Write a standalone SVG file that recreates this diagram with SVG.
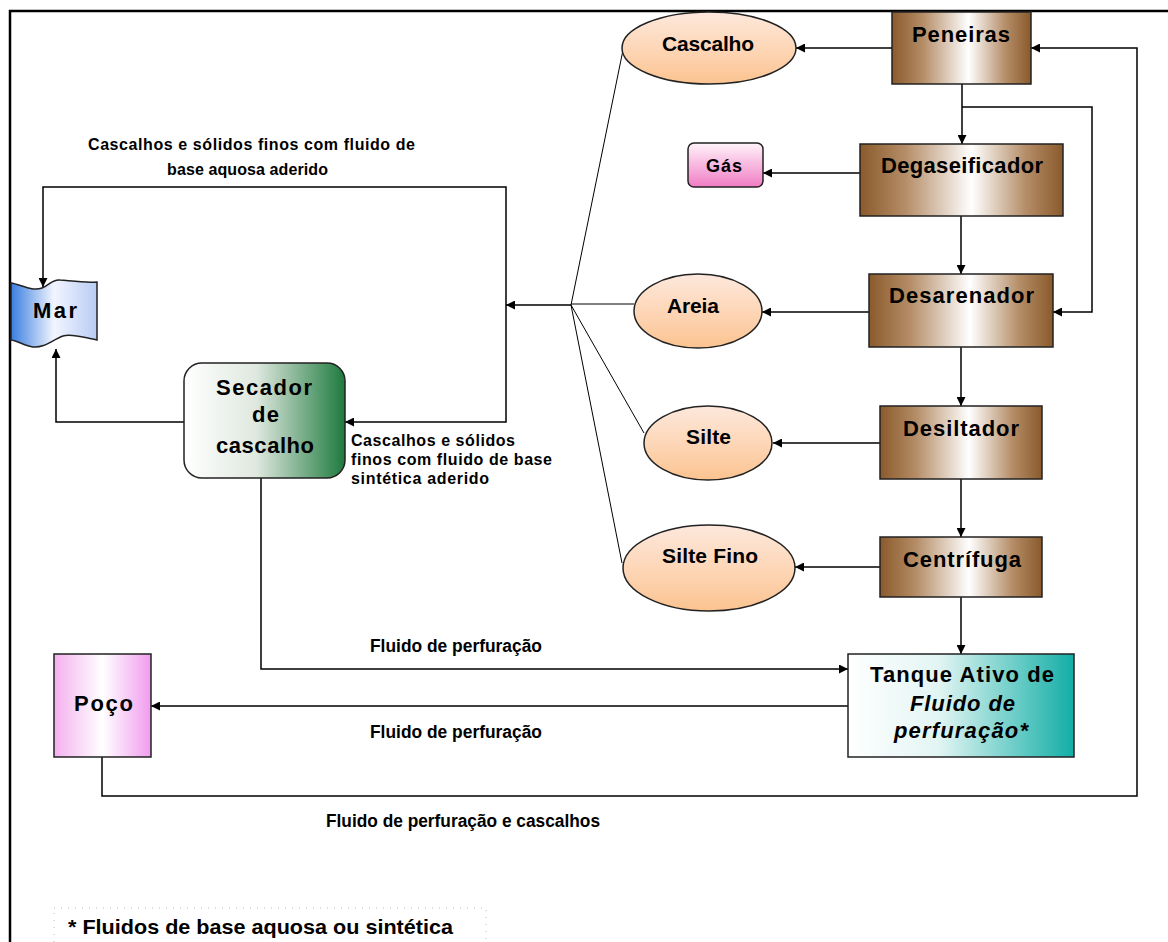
<svg xmlns="http://www.w3.org/2000/svg" width="1168" height="942" viewBox="0 0 1168 942">
<style>
.t{font-family:"Liberation Sans",Arial,sans-serif;font-weight:bold;fill:#000}
.n{font-size:22px}
.e{font-size:21px}
.s{font-size:16px}
.f{font-size:18px}
.box{stroke:#222;stroke-width:1.5}
.c{fill:none;stroke:#000;stroke-width:1.5}
.a{marker-end:url(#ah)}
.fan{fill:none;stroke:#000;stroke-width:1}
</style>
<defs>
<marker id="ah" viewBox="0 0 10 10" refX="10" refY="5" markerWidth="9" markerHeight="9" markerUnits="userSpaceOnUse" orient="auto"><path d="M0,0 L10,5 L0,10 z" fill="#000"/></marker>
<linearGradient id="brown" x1="0" y1="0" x2="1" y2="0"><stop offset="0" stop-color="#8a5a2c"/><stop offset="0.22" stop-color="#b48c66"/><stop offset="0.55" stop-color="#ffffff"/><stop offset="0.82" stop-color="#b48c66"/><stop offset="1" stop-color="#8a5a2c"/></linearGradient>
<linearGradient id="peach" x1="0" y1="0" x2="0" y2="1"><stop offset="0" stop-color="#fde8dc"/><stop offset="0.6" stop-color="#fdd3b0"/><stop offset="1" stop-color="#fbc390"/></linearGradient>
<linearGradient id="pink" x1="0" y1="0" x2="0" y2="1"><stop offset="0" stop-color="#fff4fa"/><stop offset="1" stop-color="#f07cc4"/></linearGradient>
<linearGradient id="blue" x1="0" y1="0" x2="1" y2="0"><stop offset="0" stop-color="#3a7ee0"/><stop offset="0.5" stop-color="#f2f5ff"/><stop offset="1" stop-color="#b8ccf4"/></linearGradient>
<linearGradient id="green" x1="0" y1="0" x2="1" y2="0"><stop offset="0" stop-color="#ffffff"/><stop offset="0.45" stop-color="#dfe8df"/><stop offset="1" stop-color="#1e7a3e"/></linearGradient>
<linearGradient id="violet" x1="0" y1="0" x2="1" y2="0"><stop offset="0" stop-color="#f4b0ee"/><stop offset="0.5" stop-color="#ffffff"/><stop offset="1" stop-color="#f09cee"/></linearGradient>
<linearGradient id="teal" x1="0" y1="0" x2="1" y2="0"><stop offset="0" stop-color="#ffffff"/><stop offset="0.4" stop-color="#e2f5f3"/><stop offset="1" stop-color="#12aea6"/></linearGradient>
</defs>
<rect width="1168" height="942" fill="#fff"/>
<path d="M10,942 L10,11 L1168,11" fill="none" stroke="#000" stroke-width="2.5"/>

<g id="connectors">
<path class="c a" d="M892,48 L796,48"/>
<path class="c a" d="M102,757 L102,796 L1137,796 L1137,48 L1031,48"/>
<path class="c a" d="M962,84 L962,144"/>
<path class="c a" d="M962,107 L1092,107 L1092,312 L1053,312"/>
<path class="c a" d="M860,173 L763,173"/>
<path class="c a" d="M961,216 L961,274"/>
<path class="c a" d="M869,312 L762,312"/>
<path class="c a" d="M961,347 L961,406"/>
<path class="c a" d="M880,443 L773,443"/>
<path class="c a" d="M961,479 L961,537"/>
<path class="c a" d="M880,567 L795,567"/>
<path class="c a" d="M961,597 L961,654"/>
<path class="fan" d="M571,305 L623,50 M571,304 L634,304 M571,305 L644,433 M571,305 L622,563"/>
<path class="c a" d="M571,305 L506,305"/>
<path class="c a" d="M506,305 L506,187 L43,187 L43,287"/>
<path class="c a" d="M506,305 L506,422 L345,422"/>
<path class="c a" d="M184,422 L56,422 L56,349"/>
<path class="c a" d="M261,478 L261,669 L848,669"/>
<path class="c a" d="M848,706 L151,706"/>
</g>

<g id="peneiras"><rect class="box" x="892" y="12" width="139" height="72" fill="url(#brown)"/><text class="t n" x="912" y="42" textLength="98">Peneiras</text></g>
<g id="cascalho"><ellipse class="box" cx="709" cy="48" rx="87" ry="36" fill="url(#peach)"/><text class="t e" x="662" y="51" textLength="92">Cascalho</text></g>
<g id="degaseificador"><rect class="box" x="860" y="144" width="203" height="72" fill="url(#brown)"/><text class="t n" x="881" y="173" textLength="162">Degaseificador</text></g>
<g id="gas"><rect class="box" x="688" y="143" width="75" height="44" rx="6" fill="url(#pink)"/><text class="t" font-size="18" x="706" y="172" textLength="36">Gás</text></g>
<g id="desarenador"><rect class="box" x="869" y="274" width="184" height="73" fill="url(#brown)"/><text class="t n" x="889" y="303" textLength="145">Desarenador</text></g>
<g id="areia"><ellipse class="box" cx="698" cy="311" rx="64" ry="37" fill="url(#peach)"/><text class="t e" x="667" y="313" textLength="52">Areia</text></g>
<g id="desiltador"><rect class="box" x="880" y="406" width="162" height="73" fill="url(#brown)"/><text class="t n" x="903" y="436" textLength="116">Desiltador</text></g>
<g id="silte"><ellipse class="box" cx="708" cy="443" rx="64" ry="37" fill="url(#peach)"/><text class="t e" x="686" y="444" textLength="45">Silte</text></g>
<g id="centrifuga"><rect class="box" x="880" y="537" width="162" height="60" fill="url(#brown)"/><text class="t n" x="903" y="567" textLength="118">Centrífuga</text></g>
<g id="siltefino"><ellipse class="box" cx="709" cy="568" rx="86" ry="43" fill="url(#peach)"/><text class="t e" x="662" y="563" textLength="96">Silte Fino</text></g>
<g id="mar"><path class="box" d="M11,283 C20,284 32,292 42,288 C50,285 52,279 60,280 C72,281 85,283 97,282 L97,340 C85,338 72,333 63,336 C52,340 45,348 33,347 C25,346 18,341 11,340 Z" fill="url(#blue)"/><text class="t n" x="33" y="318" textLength="44">Mar</text></g>
<g id="secador"><rect class="box" x="184" y="363" width="161" height="115" rx="18" fill="url(#green)"/>
<text class="t n" x="216" y="395" textLength="96">Secador</text>
<text class="t n" x="252" y="422" textLength="27">de</text>
<text class="t n" x="216" y="453" textLength="98">cascalho</text></g>
<g id="poco"><rect class="box" x="54" y="654" width="97" height="103" fill="url(#violet)"/><text class="t n" x="74" y="711" textLength="59">Poço</text></g>
<g id="tanque"><rect class="box" x="848" y="654" width="226" height="103" fill="url(#teal)"/>
<text class="t n" x="870" y="682" textLength="184">Tanque Ativo de</text>
<text class="t n" x="910" y="711" textLength="105" font-style="italic">Fluido de</text>
<text class="t n" x="894" y="738" textLength="134" font-style="italic">perfuração*</text></g>

<g id="labels">
<text class="t s" x="88" y="150" textLength="327">Cascalhos e sólidos finos com fluido de</text>
<text class="t s" x="167" y="175" textLength="161">base aquosa aderido</text>
<text class="t s" x="351" y="446" textLength="164">Cascalhos e sólidos</text>
<text class="t s" x="351" y="465" textLength="201">finos com fluido de base</text>
<text class="t s" x="351" y="484" textLength="138">sintética aderido</text>
<text class="t f" x="370" y="652" textLength="172" lengthAdjust="spacingAndGlyphs">Fluido de perfuração</text>
<text class="t f" x="370" y="738" textLength="172" lengthAdjust="spacingAndGlyphs">Fluido de perfuração</text>
<text class="t f" x="326" y="827" textLength="274" lengthAdjust="spacingAndGlyphs">Fluido de perfuração e cascalhos</text>
</g>
<g id="footnote">
<rect x="54" y="908" width="432" height="40" fill="none" stroke="#bbb" stroke-width="1" stroke-dasharray="1 6"/>
<text class="t" font-size="21" x="68" y="934" textLength="385" lengthAdjust="spacingAndGlyphs">* Fluidos de base aquosa ou sintética</text>
</g>
</svg>
